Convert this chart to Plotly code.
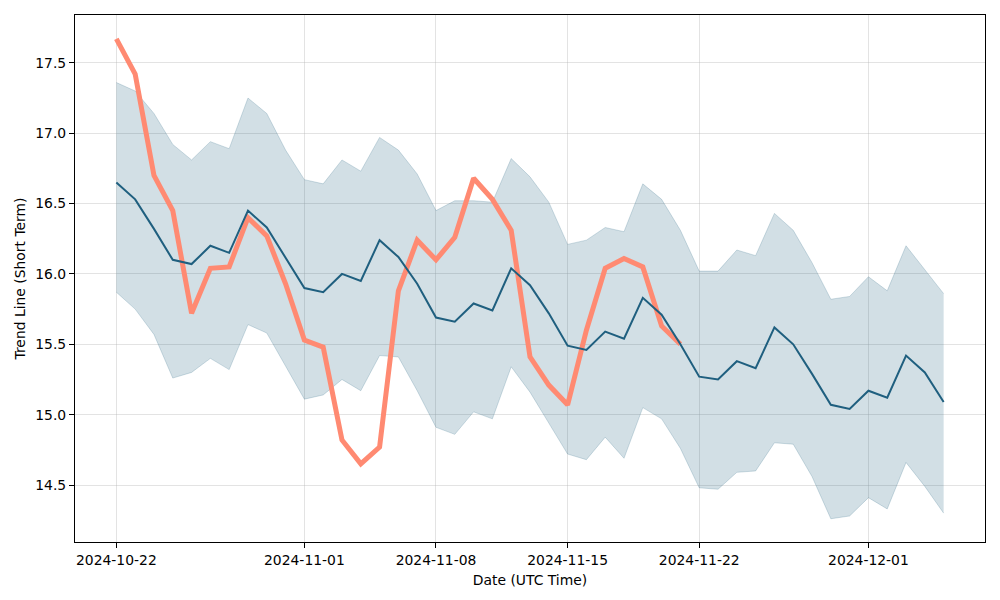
import pandas
import plotly.graph_objects as go

# ---------------------------------------------------------------

START_DATE = "2024-10-22"
N_DAYS = 45

trend_mid = [
    16.65, 16.53, 16.32, 16.10, 16.07, 16.20, 16.15, 16.45, 16.33, 16.11,
    15.90, 15.87, 16.00, 15.95, 16.24, 16.12, 15.93, 15.69, 15.66, 15.79,
    15.74, 16.04, 15.92, 15.72, 15.49, 15.46, 15.59, 15.54, 15.83, 15.71,
    15.50, 15.27, 15.25, 15.38, 15.33, 15.62, 15.50, 15.29, 15.07, 15.04,
    15.17, 15.12, 15.42, 15.30, 15.09,
]

trend_upper = [
    17.36, 17.30, 17.14, 16.92, 16.81, 16.94, 16.89, 17.25, 17.14, 16.88,
    16.67, 16.64, 16.81, 16.73, 16.97, 16.88, 16.71, 16.45, 16.52, 16.52,
    16.51, 16.82, 16.69, 16.51, 16.21, 16.24, 16.33, 16.30, 16.64, 16.53,
    16.31, 16.02, 16.02, 16.17, 16.13, 16.43, 16.31, 16.08, 15.82, 15.84,
    15.98, 15.88, 16.20, 16.03, 15.86,
]

trend_lower = [
    15.87, 15.75, 15.57, 15.26, 15.30, 15.40, 15.32, 15.64, 15.58, 15.34,
    15.11, 15.14, 15.25, 15.17, 15.42, 15.41, 15.17, 14.91, 14.86, 15.02,
    14.97, 15.34, 15.16, 14.94, 14.72, 14.68, 14.84, 14.69, 15.05, 14.97,
    14.76, 14.48, 14.47, 14.59, 14.60, 14.80, 14.79, 14.56, 14.26, 14.28,
    14.41, 14.33, 14.66, 14.49, 14.30,
]

price = [
    17.67, 17.42, 16.70, 16.45, 15.72, 16.04, 16.05, 16.40, 16.27, 15.93,
    15.53, 15.48, 14.82, 14.65, 14.77, 15.88, 16.24, 16.10, 16.26, 16.68,
    16.53, 16.31, 15.41, 15.21, 15.07, 15.60, 16.04, 16.11, 16.05, 15.63,
    15.50,
]

date_ticks = ["2024-10-22", "2024-11-01", "2024-11-08", "2024-11-15", "2024-11-22", "2024-12-01"]
y_ticks = [14.5, 15.0, 15.5, 16.0, 16.5, 17.0, 17.5]

# ---------------------------------------------------------------

BLUE = "#1f5f7f"
BAND = "rgba(31,95,127,0.2)"
SALMON = "#ff8a72"
GRID = "rgba(176,176,176,0.35)"
FONT = dict(family="DejaVu Sans", size=13.9, color="black")

# the page body keeps its default 8px margin, so shift the plot box back
BODY = 8

dates = pandas.date_range(START_DATE, periods=N_DAYS, freq="D")

fig = go.Figure()

fig.add_trace(go.Scatter(
    x=dates, y=trend_upper, mode="lines",
    line=dict(color=BAND, width=1), showlegend=False,
))
fig.add_trace(go.Scatter(
    x=dates, y=trend_lower, mode="lines",
    line=dict(color=BAND, width=1), fill="tonexty", fillcolor=BAND,
    showlegend=False,
))
fig.add_trace(go.Scatter(
    x=dates[:len(price)], y=price, mode="lines",
    line=dict(color=SALMON, width=5), showlegend=False,
))
fig.add_trace(go.Scatter(
    x=dates, y=trend_mid, mode="lines",
    line=dict(color=BLUE, width=2), showlegend=False,
))

pad = pandas.Timedelta(days=2.2)
axis_style = dict(
    showline=True, linecolor="black", linewidth=1, mirror=True,
    ticks="outside", ticklen=5, tickcolor="black", tickwidth=1,
    showgrid=True, gridcolor=GRID, gridwidth=1, zeroline=False,
    tickfont=FONT, automargin=False,
)

fig.update_xaxes(
    range=[dates[0] - pad, dates[-1] + pad],
    tickvals=date_ticks, tickformat="%Y-%m-%d",
    title=dict(text="Date (UTC Time)", font=FONT, standoff=8),
    **axis_style,
)
fig.update_yaxes(
    range=[14.095, 17.84],
    tickvals=y_ticks, tickformat=".1f",
    title=dict(text="Trend Line (Short Term)", font=FONT, standoff=6),
    **axis_style,
)

fig.update_layout(
    autosize=False,
    width=1000,
    height=600,
    margin=dict(l=75 - BODY, r=15 + BODY, t=15 - BODY, b=58 + BODY),
    plot_bgcolor="white",
    paper_bgcolor="white",
    font=FONT,
)

fig.write_html("out.html")
